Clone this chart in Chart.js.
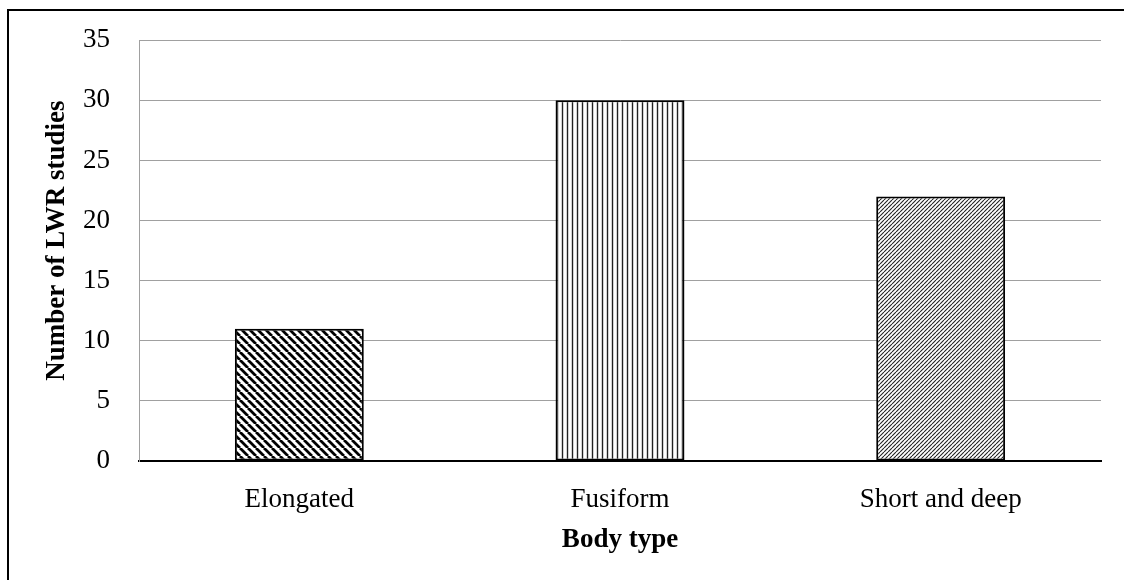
<!DOCTYPE html>
<html>
<head>
<meta charset="utf-8">
<title>Body type</title>
<script src="https://cdn.jsdelivr.net/npm/chart.js@4.4.1/dist/chart.umd.min.js"></script>
<style>
  html, body { margin: 0; padding: 0; background: #fff; overflow: hidden; }
  #frame { position: absolute; left: 7px; top: 9px; width: 1300px; height: 800px; border-top: 2px solid #000; border-left: 2px solid #000; }
  #chartHolder { position: absolute; left: 0; top: 0; width: 1124px; height: 580px; }
</style>
</head>
<body>
<div id="frame"></div>
<div id="chartHolder"><canvas id="bodyChart"></canvas></div>
<script>
'use strict';

//data
var bodyTypes = ['Elongated', 'Fusiform', 'Short and deep'];
var studyCounts = [11, 30, 22];
var yTicks = [0, 5, 10, 15, 20, 25, 30, 35];
var yTitleText = 'Number of LWR studies';

var serif = '"Times New Roman", "Liberation Serif", serif';

//hatch fills, one per bar
function makeHatch(size, kind, width, color) {
  var c = document.createElement('canvas');
  c.width = size;
  c.height = size;
  var g = c.getContext('2d');
  g.fillStyle = '#fff';
  g.fillRect(0, 0, size, size);
  g.strokeStyle = color;
  g.lineWidth = width;
  g.beginPath();
  if (kind === 'vertical') {
    g.moveTo(size / 2, 0);
    g.lineTo(size / 2, size);
  } else {
    for (var k = -1; k <= 1; k++) {
      if (kind === 'down') {
        g.moveTo(k * size, 0);
        g.lineTo(k * size + size, size);
      } else {
        g.moveTo(k * size, size);
        g.lineTo(k * size + size, 0);
      }
    }
  }
  g.stroke();
  return g.createPattern(c, 'repeat');
}

var fills = [
  makeHatch(8, 'down', 2.8, '#000'),
  makeHatch(5, 'vertical', 1.4, '#222'),
  makeHatch(4, 'up', 1.1, '#222')
];

//y title drawn by hand so it can sit a little above the axis middle, like the original
var yTitlePlugin = {
  id: 'yTitle',
  afterDraw: function (chart) {
    var c = chart.ctx;
    var area = chart.chartArea;
    c.save();
    c.translate(57, (area.top + area.bottom) / 2 - 10);
    c.rotate(-Math.PI / 2);
    c.font = 'bold 27px ' + serif;
    c.fillStyle = '#000';
    c.textAlign = 'center';
    c.textBaseline = 'middle';
    c.fillText(yTitleText, 0, 0);
    c.restore();
  }
};

var ctx = document.getElementById('bodyChart').getContext('2d');
var barChart = new Chart(ctx, {
  type: 'bar',
  data: {
    labels: bodyTypes,
    datasets: [{
      data: studyCounts,
      backgroundColor: fills,
      borderColor: '#000',
      borderWidth: 2,
      borderSkipped: false,
      barPercentage: 0.402,
      categoryPercentage: 1
    }]
  },
  plugins: [yTitlePlugin],
  options: {
    responsive: true,
    maintainAspectRatio: false,
    animation: false,
    layout: { padding: { top: 40, right: 23, left: 0, bottom: 0 } },
    plugins: {
      legend: { display: false },
      tooltip: { enabled: false }
    },
    scales: {
      x: {
        grid: { display: false },
        border: { display: true, color: '#000', width: 2 },
        ticks: { color: '#000', padding: 15, font: { family: serif, size: 27 } },
        title: {
          display: true,
          text: 'Body type',
          color: '#000',
          padding: { top: 0, bottom: 24 },
          font: { family: serif, size: 27, weight: 'bold' }
        },
        afterFit: function (axis) { axis.height = 119; }
      },
      y: {
        min: 0,
        max: 35,
        grid: { color: '#a0a0a0', lineWidth: 1, drawTicks: true, tickLength: 5, tickColor: 'rgba(0,0,0,0)' },
        border: { display: true, color: '#a0a0a0', width: 1 },
        afterBuildTicks: function (axis) {
          axis.ticks = yTicks.map(function (v) { return { value: v }; });
        },
        ticks: { color: '#000', padding: 24, font: { family: serif, size: 27 } },
        afterFit: function (axis) { axis.width = 139; }
      }
    }
  }
});
</script>
</body>
</html>
